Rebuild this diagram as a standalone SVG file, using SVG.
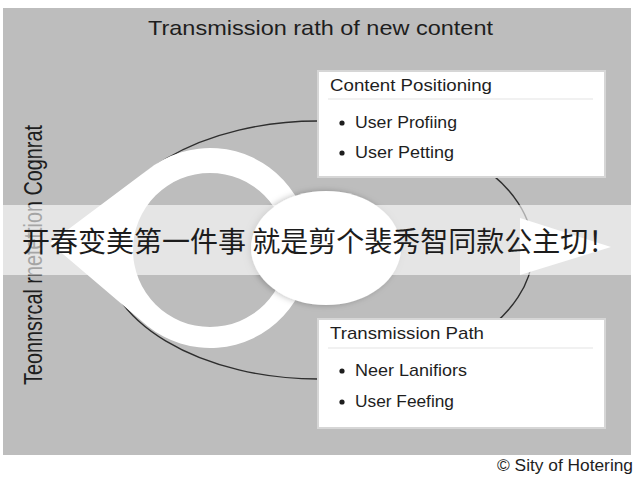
<svg xmlns="http://www.w3.org/2000/svg" width="640" height="480" viewBox="0 0 640 480">
  <defs>
    <style>
      .t { font-family: "Liberation Sans", Arial, sans-serif; fill: #1e1e1e; }
      .hdr { font-size: 17px; }
      .item { font-size: 17px; }
      .box { fill: #ffffff; stroke: #d6d6d6; stroke-width: 2; }
      .sep { stroke: #e3e3e3; stroke-width: 1; }
      .dot { fill: #1e1e1e; }
      .conn { fill: none; stroke: #2e2e2e; stroke-width: 1.4; }
      .cjk { font-family: "Noto Sans CJK SC", "Noto Sans", sans-serif; font-size: 28px; fill: #1c1c1c; }
    </style>
    <filter id="soft" x="-20%" y="-20%" width="140%" height="140%">
      <feDropShadow dx="-2" dy="0" stdDeviation="3" flood-color="#000000" flood-opacity="0.25"/>
    </filter>
  </defs>

  <rect x="0" y="0" width="640" height="480" fill="#ffffff"/>
  <rect id="panel" x="3" y="8" width="628" height="447" fill="#bdbdbd"/>

  <text id="title" class="t" x="148" y="35" font-size="21" textLength="345" lengthAdjust="spacingAndGlyphs">Transmission rath of new content</text>

  <g id="connectors">
    <ellipse class="conn" cx="318" cy="250" rx="215" ry="129"/>
  </g>

  <g id="left-shape">
    <path d="M50,243 L147.5,170 A100,100 0 1,1 147.5,326 Z M287,250 A77,77 0 1,0 133,250 A77,77 0 1,0 287,250 Z" fill="#ffffff" fill-rule="evenodd"/>
  </g>

  <g id="center-circle">
    <ellipse cx="326" cy="248" rx="75" ry="57" fill="#ffffff" filter="url(#soft)"/>
  </g>

  <g id="arrow-head">
    <polygon points="520,218 611,247 520,275" fill="#ffffff"/>
  </g>

  <g id="content-positioning">
    <rect class="box" x="318" y="71" width="287" height="106"/>
    <text class="t hdr" x="330" y="91" textLength="162" lengthAdjust="spacingAndGlyphs">Content Positioning</text>
    <line class="sep" x1="328" y1="99" x2="593" y2="99"/>
    <circle class="dot" cx="342" cy="123" r="2.6"/>
    <text class="t item" x="355" y="128" textLength="102" lengthAdjust="spacingAndGlyphs">User Profiing</text>
    <circle class="dot" cx="342" cy="153" r="2.6"/>
    <text class="t item" x="355" y="158" textLength="99" lengthAdjust="spacingAndGlyphs">User Petting</text>
  </g>

  <g id="transmission-path">
    <rect class="box" x="318" y="319" width="287" height="109"/>
    <text class="t hdr" x="330" y="339" textLength="154" lengthAdjust="spacingAndGlyphs">Transmission Path</text>
    <line class="sep" x1="328" y1="348" x2="593" y2="348"/>
    <circle class="dot" cx="342" cy="371" r="2.6"/>
    <text class="t item" x="355" y="376" textLength="112" lengthAdjust="spacingAndGlyphs">Neer Lanifiors</text>
    <circle class="dot" cx="342" cy="402" r="2.6"/>
    <text class="t item" x="355" y="407" textLength="99" lengthAdjust="spacingAndGlyphs">User Feefing</text>
  </g>

  <text id="side-label" class="t" font-size="25" textLength="260" lengthAdjust="spacingAndGlyphs" transform="translate(42,385) rotate(-90)">Teonnsrcal rnetettion Cognrat</text>

  <g id="banner">
    <rect x="0" y="205" width="640" height="70" fill="#ffffff" fill-opacity="0.6"/>
    <text class="cjk" x="22" y="252">开春变美第一件事 就是剪个裴秀智同款公主切！</text>
  </g>

  <text id="credit" class="t" x="497" y="471" font-size="16" textLength="136" lengthAdjust="spacingAndGlyphs" fill="#3a3a3a">© Sity of Hotering</text>
</svg>
